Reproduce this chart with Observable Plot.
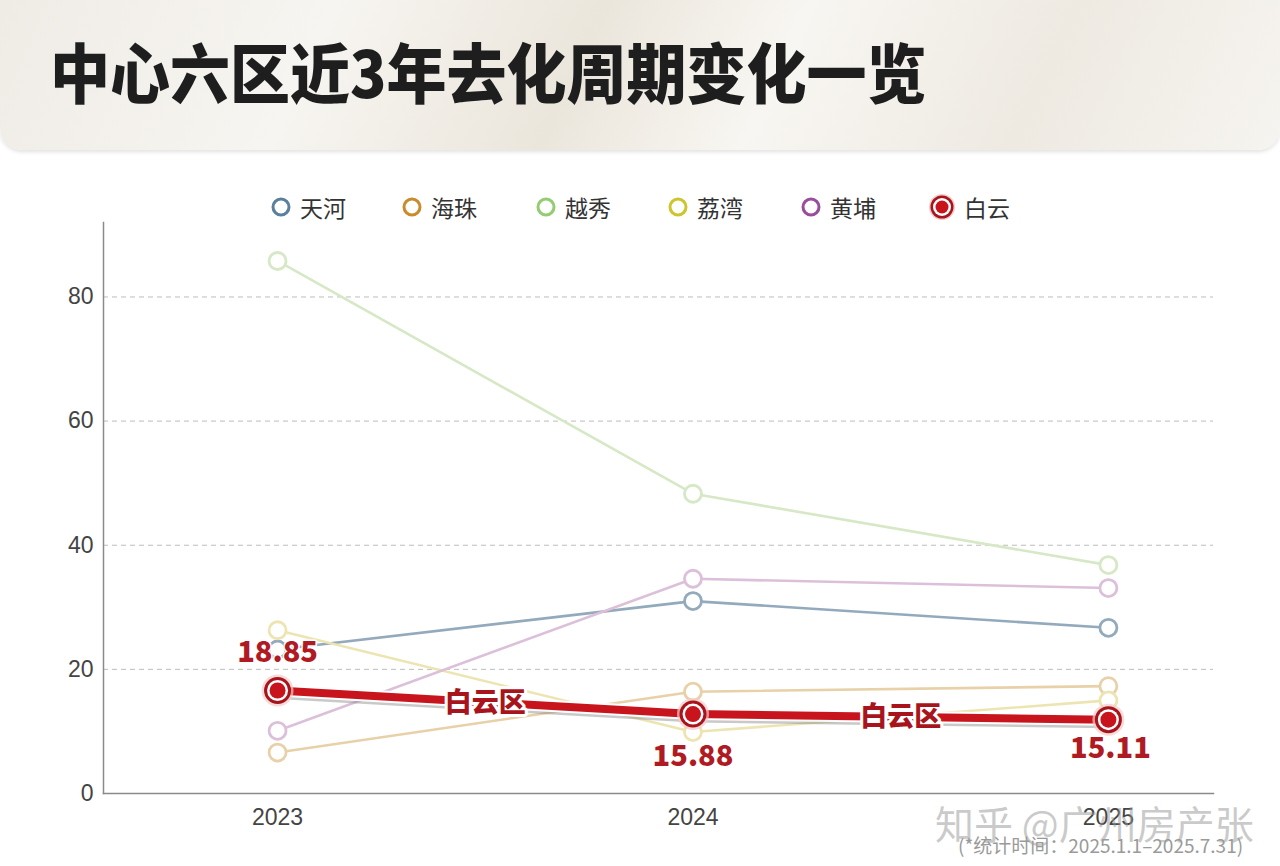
<!DOCTYPE html>
<html><head><meta charset="utf-8">
<script src="https://cdn.jsdelivr.net/npm/d3@7"></script>
<script src="https://cdn.jsdelivr.net/npm/@observablehq/plot@0.6"></script>
<style>
html,body{margin:0;padding:0;background:#fff;width:1280px;height:866px;overflow:hidden;position:relative;font-family:"Noto Sans CJK SC","Liberation Sans",sans-serif;}
#header{position:absolute;left:0;top:0;width:1280px;height:150px;border-radius:0 0 22px 22px;
 background:linear-gradient(115deg,#efece6 0%,#f7f5f1 25%,#ebe6dc 45%,#f8f6f2 60%,#eeeae2 80%,#f6f4f0 100%);
 box-shadow:0 2px 4px rgba(0,0,0,0.12);}
#title{position:absolute;left:50px;top:22px;font-size:60px;font-weight:900;color:#1e1e1e;white-space:nowrap;transform:scaleY(1.08);transform-origin:left top;}
#legend{position:absolute;left:0;top:189px;width:1280px;height:36px;}
.li{position:absolute;top:0;height:36px;display:flex;align-items:center;font-size:23px;color:#333;}
.li svg{margin-right:8px;}
#chart{position:absolute;left:0;top:200px;}
#wm{position:absolute;left:935px;top:794px;font-size:39px;color:rgba(150,150,150,0.5);white-space:nowrap;}
#note{position:absolute;left:958px;top:831px;font-size:19px;color:#9a9a9a;white-space:nowrap;}
</style></head>
<body>
<div id="header"><div id="title">中心六区近3年去化周期变化一览</div></div>
<div id="legend"></div>
<div id="chart"></div>
<div id="wm">知乎 @广州房产张</div>
<div id="note">(*统计时间：2025.1.1–2025.7.31)</div>
<script>
// ---- data ----
const years = [2023, 2024, 2025];
const districts = ["天河", "海珠", "越秀", "荔湾", "黄埔", "白云"];
const tianhe  = [23.2, 31.0, 26.7];
const haizhu  = [6.6, 16.4, 17.3];
const yuexiu  = [85.8, 48.3, 36.8];
const liwan   = [26.3, 9.9, 15.0];
const huangpu = [10.1, 34.6, 33.1];
const baiyun  = [16.6, 12.8, 11.9];
const baiyunLabels = ["18.85", "15.88", "15.11"];
const segmentLabel = "白云区";
const yTicks = [0, 20, 40, 60, 80];

// ---- styles ----
const lineColors = {"天河":"#93aabd","海珠":"#e8d1a8","越秀":"#d6e8c5","荔湾":"#ece5b2","黄埔":"#dcc0da"};
const legendColors = {"天河":"#5c7f9b","海珠":"#c98b2b","越秀":"#94cc72","荔湾":"#cdc52b","黄埔":"#9a4c9e"};
const red = "#c8151d", darkRed = "#a8141c";
const legendX = [270, 401, 535, 667, 800, 928];
const labelDy = [-38, 43, 29];

const seriesValues = [tianhe, haizhu, yuexiu, liwan, huangpu];

// legend
const lg = document.getElementById("legend");
districts.forEach((d, i) => {
  const el = document.createElement("div");
  el.className = "li";
  el.style.left = legendX[i] + "px";
  let sym;
  if (d === "白云") {
    sym = `<svg width="28" height="28"><circle cx="14" cy="14" r="13" fill="#f3c9c9"/><circle cx="14" cy="14" r="11.5" fill="${darkRed}"/><circle cx="14" cy="14" r="9" fill="#fff"/><circle cx="14" cy="14" r="6.5" fill="${red}"/></svg>`;
  } else {
    sym = `<svg width="22" height="22"><circle cx="11" cy="11" r="8" fill="#fff" stroke="${legendColors[d]}" stroke-width="3"/></svg>`;
  }
  el.innerHTML = sym + `<span>${d}</span>`;
  lg.appendChild(el);
});

// table
const rows = [];
seriesValues.forEach((vals, si) => {
  years.forEach((y, i) => rows.push({district: districts[si], year: y, value: vals[i]}));
});
const by = years.map((y, i) => ({year: y, value: baiyun[i], label: baiyunLabels[i]}));
const mids = years.slice(1).map((y, i) => ({year: (years[i] + y) / 2, value: (baiyun[i] + baiyun[i + 1]) / 2}));

const marks = [
  Plot.gridY(yTicks, {stroke: "#bdbdbd", strokeOpacity: 1, strokeDasharray: "5,4", strokeWidth: 1}),
  Plot.frame({anchor: "left", stroke: "#8a8a8a", strokeWidth: 1.5}),
  Plot.frame({anchor: "bottom", stroke: "#8a8a8a", strokeWidth: 1.5}),
  Plot.axisY(yTicks, {tickSize: 0, tickPadding: 10, fontSize: 23, fill: "#444", label: null, fontFamily: "Liberation Sans, sans-serif"}),
  Plot.axisX(years, {tickSize: 0, tickPadding: 15, fontSize: 23, fill: "#444", label: null, tickFormat: d => String(d), fontFamily: "Liberation Sans, sans-serif"})
];
districts.slice(0, 5).forEach(d => {
  const data = rows.filter(r => r.district === d);
  marks.push(Plot.line(data, {x: "year", y: "value", stroke: lineColors[d], strokeWidth: 2.6}));
});
districts.slice(0, 5).forEach(d => {
  const data = rows.filter(r => r.district === d);
  marks.push(Plot.dot(data, {x: "year", y: "value", r: 8.5, fill: "#fff", stroke: lineColors[d], strokeWidth: 2.8}));
});
// 白云 highlighted line
marks.push(
  Plot.line(by, {x: "year", y: "value", stroke: "#888", strokeOpacity: 0.45, strokeWidth: 7, dy: 5}),
  Plot.line(by, {x: "year", y: "value", stroke: "#fff", strokeWidth: 12}),
  Plot.line(by, {x: "year", y: "value", stroke: red, strokeWidth: 8}),
  Plot.text(mids, {x: "year", y: "value", text: () => segmentLabel, fontSize: 27, fontWeight: 900, fill: darkRed, stroke: "#fff", strokeWidth: 6, paintOrder: "stroke", dy: 1}),
  Plot.dot(by, {x: "year", y: "value", r: 16, fill: "#f5caca", fillOpacity: 0.7}),
  Plot.dot(by, {x: "year", y: "value", r: 13.5, fill: darkRed}),
  Plot.dot(by, {x: "year", y: "value", r: 10.5, fill: "#fff"}),
  Plot.dot(by, {x: "year", y: "value", r: 8, fill: red})
);
by.forEach((d, i) => {
  marks.push(Plot.text([d], {x: "year", y: "value", text: "label", fontSize: 29, fontWeight: 900, fill: "#b01a22", stroke: "#fff", strokeWidth: 3, paintOrder: "stroke", dy: labelDy[i], dx: i === 2 ? 2 : 0}));
});

const chart = Plot.plot({
  width: 1280,
  height: 666,
  marginLeft: 103,
  marginRight: 67,
  marginTop: 22,
  marginBottom: 73,
  x: {type: "linear", domain: [2022.581, 2025.253]},
  y: {domain: [0, 92]},
  style: {background: "transparent", fontFamily: "Noto Sans CJK SC, Liberation Sans, sans-serif"},
  marks
});
document.getElementById("chart").appendChild(chart);
</script>
</body></html>
